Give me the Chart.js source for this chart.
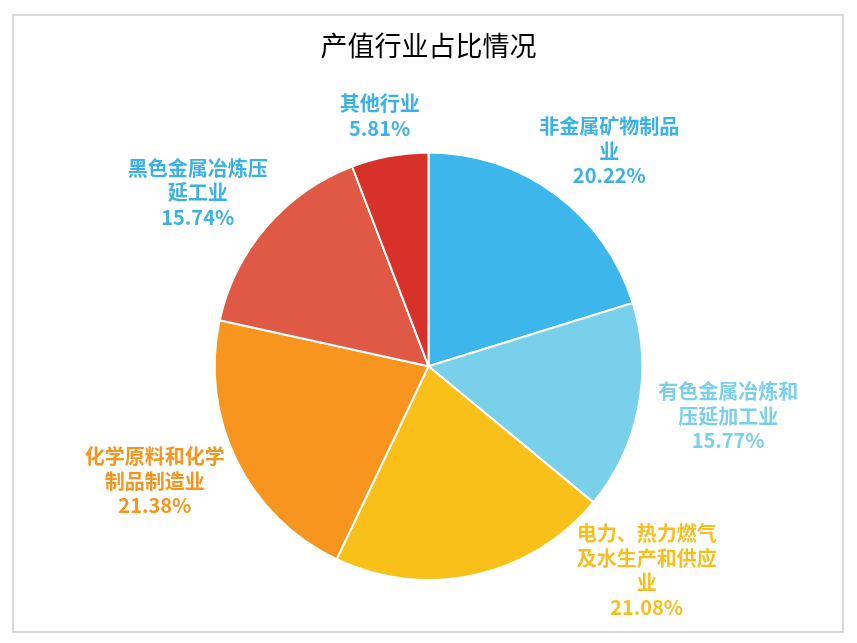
<!DOCTYPE html>
<html>
<head>
<meta charset="utf-8">
<script src="https://cdn.jsdelivr.net/npm/chart.js@4/dist/chart.umd.min.js"></script>
<style>
  html, body { margin: 0; padding: 0; background: #fff; }
  #wrap { position: relative; width: 857px; height: 643px; }
  #frame {
    position: absolute; left: 12px; top: 14px; width: 828px; height: 615px;
    border: 2px solid #d9d9d9;
  }
  #pieChart { position: absolute; left: 0; top: 0; }
</style>
</head>
<body>
<div id="wrap">
  <div id="frame"></div>
  <canvas id="pieChart" width="857" height="643"></canvas>
</div>
<script>
// 产值行业占比 (%)
const industries = ["非金属矿物制品业", "有色金属冶炼和压延加工业", "电力、热力燃气及水生产和供应业", "化学原料和化学制品制造业", "黑色金属冶炼压延工业", "其他行业"];
const shares = [20.22, 15.77, 21.08, 21.38, 15.74, 5.81];

const sliceColors = ["#3cb6eb", "#78d0ea", "#f8c019", "#f8951e", "#e05944", "#d8312a"];
const labelColors = ["#3bb1e6", "#7acfea", "#f7be1e", "#f7941d", "#3bb1e6", "#3bb1e6"];

// label placement: angle nudge (deg) from slice middle, distance beyond the rim (px)
const labelNudge = [3.7, -1.7, -34.4, 3.3, -3.8, -0.6];
const labelGap = [67, 90, 85, 83, 75, 41];

function wrapText(s, n) {
  const out = [];
  for (let i = 0; i < s.length; i += n) out.push(s.slice(i, i + n));
  return out;
}

const outsideLabels = {
  id: "outsideLabels",
  afterDatasetsDraw(chart) {
    const ctx = chart.ctx;
    const arcs = chart.getDatasetMeta(0).data;
    ctx.save();
    ctx.font = "bold 20px 'Noto Sans CJK SC', sans-serif";
    ctx.textAlign = "center";
    ctx.textBaseline = "middle";
    arcs.forEach((arc, i) => {
      const p = arc.getProps(["x", "y", "startAngle", "endAngle", "outerRadius"], true);
      const a = (p.startAngle + p.endAngle) / 2 + labelNudge[i] * Math.PI / 180;
      const d = p.outerRadius + labelGap[i];
      const cx = p.x + Math.cos(a) * d;
      const cy = p.y + Math.sin(a) * d;
      const lines = wrapText(industries[i], 7);
      lines.push(shares[i].toFixed(2) + "%");
      const lh = 24.5;
      const top = cy - (lines.length - 1) * lh / 2;
      ctx.fillStyle = labelColors[i];
      lines.forEach((t, k) => ctx.fillText(t, cx, top + k * lh));
    });
    ctx.restore();
  }
};

document.addEventListener("DOMContentLoaded", () => {
  const ctx = document.getElementById("pieChart").getContext("2d");
  new Chart(ctx, {
    type: "pie",
    data: {
      labels: industries,
      datasets: [
        {
          data: shares,
          backgroundColor: sliceColors,
          borderColor: "#ffffff",
          borderWidth: 2,
        },
      ],
    },
    options: {
      responsive: false,
      animation: false,
      layout: { padding: { top: 0, bottom: 62, left: 0, right: 0 } },
      plugins: {
        legend: { display: false },
        tooltip: { enabled: false },
        title: {
          display: true,
          text: "产值行业占比情况",
          color: "#000000",
          font: { size: 27, weight: "normal", family: "'Noto Sans CJK SC', sans-serif" },
          padding: { top: 30, bottom: 89 },
        },
      },
    },
    plugins: [outsideLabels],
  });
});
</script>
</body>
</html>
